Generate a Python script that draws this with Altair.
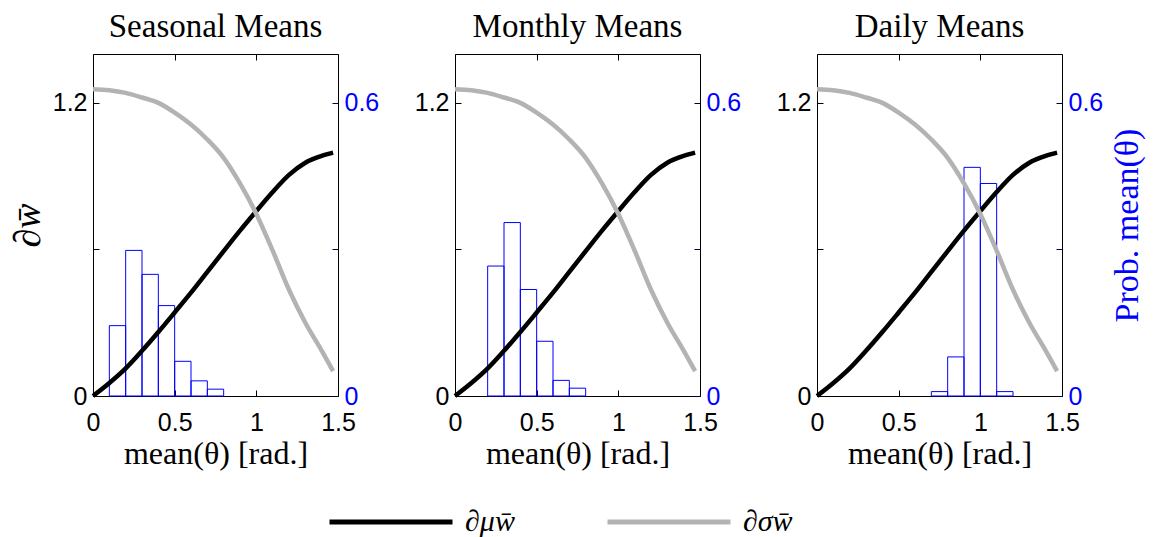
import altair as alt
import pandas as pd

# Sensitivity curves (shared by all panels)
theta = [0.0, 0.1, 0.2, 0.3, 0.4, 0.5, 0.6, 0.7, 0.8, 0.9, 1.0, 1.1, 1.2, 1.3, 1.4, 1.47]
d_mu = [0.0, 0.053, 0.113, 0.185, 0.262, 0.342, 0.423, 0.508, 0.593, 0.677, 0.757,
        0.835, 0.905, 0.955, 0.983, 0.996]
d_sigma = [1.256, 1.252, 1.241, 1.222, 1.200, 1.160, 1.111, 1.050, 0.975, 0.870, 0.745,
           0.595, 0.435, 0.300, 0.186, 0.102]
series_names = ["∂μw̄", "∂σw̄"]
series_colors = ["#000000", "#b3b3b3"]

# Histograms of mean(theta), bin width 0.1
panel_titles = ["Seasonal Means", "Monthly Means", "Daily Means"]
bin_starts = [
    [0.1, 0.2, 0.3, 0.4, 0.5, 0.6, 0.7],
    [0.2, 0.3, 0.4, 0.5, 0.6, 0.7],
    [0.7, 0.8, 0.9, 1.0, 1.1],
]
bin_probs = [
    [0.144, 0.298, 0.249, 0.185, 0.071, 0.031, 0.014],
    [0.266, 0.355, 0.218, 0.112, 0.032, 0.016],
    [0.009, 0.080, 0.468, 0.435, 0.009],
]
bin_width = 0.1

x_ticks = [0, 0.5, 1, 1.5]
left_ticks = [0, 0.6, 1.2]
right_ticks = [0, 0.3, 0.6]

SERIF = "Liberation Serif"
SANS = "Liberation Sans"
TICK = 6
BLUE = "#0000ff"
LEGEND_LINE = 123

curves = pd.DataFrame({
    "theta": theta + theta,
    "value": d_mu + d_sigma,
    "series": [series_names[0]] * len(theta) + [series_names[1]] * len(theta),
})

x_scale = alt.Scale(domain=[0, 1.5], nice=False, zero=False)


def panel(i):
    hist = pd.DataFrame({
        "lo": bin_starts[i],
        "hi": [round(b + bin_width, 3) for b in bin_starts[i]],
        "p": bin_probs[i],
    })

    bars = alt.Chart(hist).mark_rect(fillOpacity=0, stroke=BLUE, strokeWidth=1).encode(
        x=alt.X("lo:Q", scale=x_scale, axis=alt.Axis(
            orient="top", values=x_ticks, labels=False, domain=False, grid=False,
            tickSize=TICK, offset=-TICK, tickColor="black", title=None)),
        x2="hi:Q",
        y=alt.Y("p:Q", scale=alt.Scale(domain=[0, 0.7], nice=False), axis=alt.Axis(
            orient="right", values=right_ticks, domain=False, grid=False,
            tickSize=TICK, offset=-TICK, tickColor="#000040",
            labelExpr="datum.value == 0.3 ? '' : format(datum.value, '~g')",
            labelFont=SANS, labelFontSize=25, labelColor=BLUE, labelPadding=6,
            labelFlush=False,
            title="Prob. mean(θ)" if i == 2 else None,
            titleFont=SERIF, titleFontSize=34, titleFontWeight="normal",
            titleColor=BLUE, titleAngle=270, titleBaseline="top", titlePadding=8)),
        y2=alt.datum(0),
    )

    if i == 0:
        legend = alt.Legend(
            orient="none", legendX=234, legendY=404, direction="horizontal",
            symbolType="stroke", symbolSize=LEGEND_LINE * LEGEND_LINE, symbolStrokeWidth=5,
            labelFont=SERIF, labelFontSize=30, labelFontStyle="italic",
            labelOffset=10, columnPadding=82, title=None)
    else:
        legend = None

    lines = alt.Chart(curves).mark_line(strokeWidth=4.5, interpolate="monotone").encode(
        x=alt.X("theta:Q", scale=x_scale, axis=alt.Axis(
            orient="bottom", values=x_ticks, domain=False, grid=False,
            tickSize=TICK, offset=-TICK, tickColor="black",
            labelExpr="format(datum.value, '~g')", labelFlush=False,
            labelFont=SANS, labelFontSize=25, labelColor="black", labelPadding=14,
            title="mean(θ) [rad.]", titleFont=SERIF, titleFontSize=32,
            titleFontWeight="normal", titleColor="black", titlePadding=3)),
        y=alt.Y("value:Q", scale=alt.Scale(domain=[0, 1.4], nice=False), axis=alt.Axis(
            orient="left", values=left_ticks, domain=False, grid=False,
            tickSize=TICK, offset=-TICK, tickColor="black",
            labelExpr="datum.value == 0.6 ? '' : format(datum.value, '~g')",
            labelFlush=False,
            labelFont=SANS, labelFontSize=25, labelColor="black", labelPadding=6,
            title="∂w̄" if i == 0 else None,
            titleFont=SERIF, titleFontSize=38, titleFontWeight="normal",
            titleFontStyle="italic", titleColor="black", titlePadding=5)),
        color=alt.Color("series:N", sort=series_names,
                        scale=alt.Scale(domain=series_names, range=series_colors),
                        legend=legend),
    )

    return alt.layer(bars, lines).resolve_scale(y="independent").resolve_axis(
        x="independent", y="independent"
    ).properties(
        width=245, height=342,
        title=alt.Title(panel_titles[i], font=SERIF, fontSize=33, fontWeight="normal",
                        color="black", anchor="middle", offset=10),
    )


chart = alt.hconcat(panel(0), panel(1), panel(2), spacing=117, bounds="flush").resolve_scale(
    x="independent", y="independent", color="independent"
).properties(
    padding={"left": 8, "top": 10, "right": 5, "bottom": 0},
    background="white",
).configure_view(
    stroke="black", strokeWidth=1
).configure_axis(
    grid=False
)

chart.save("out.html", embed_options={"renderer": "svg", "actions": False})
